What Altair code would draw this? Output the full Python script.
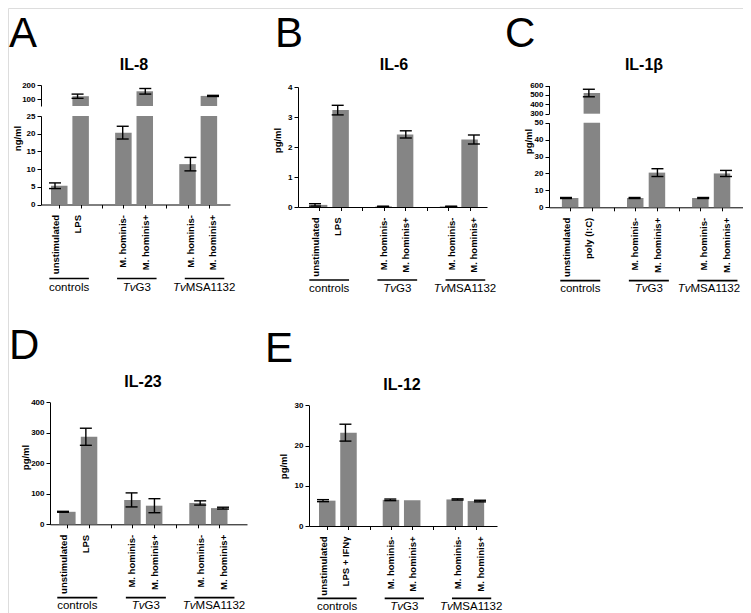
import altair as alt
import pandas as pd

# ---------------- data ----------------
slots = [0, 1, 3, 4, 6, 7]          # bar slots (2 and 5 are the gaps between groups)
all_slots = [0, 1, 2, 3, 4, 5, 6, 7]
group_first = [0, 3, 6]
group_pre = ["", "Tv", "Tv"]
group_main = ["controls", "G3", "MSA1132"]

cat_A = ["unstimulated", "LPS", "M. hominis-", "M. hominis+", "M. hominis-", "M. hominis+"]
cat_C = ["unstimulated", "poly (I:C)", "M. hominis-", "M. hominis+", "M. hominis-", "M. hominis+"]
cat_E = ["unstimulated", "LPS + IFN\u03b3", "M. hominis-", "M. hominis+", "M. hominis-", "M. hominis+"]

il8_mean = [5.3, 120, 20.3, 155, 11.4, 122]
il8_err = [0.8, 15, 1.8, 20, 1.9, 4]
il6_mean = [0.07, 3.23, 0.02, 2.42, 0.02, 2.25]
il6_err = [0.04, 0.16, 0.006, 0.12, 0.006, 0.15]
il1b_mean = [5.5, 520, 5.5, 20.5, 5.5, 20.0]
il1b_err = [0.3, 40, 0.3, 2.3, 0.3, 1.8]
il23_mean = [41, 287, 80, 61, 70, 53]
il23_err = [1.5, 28, 23, 23, 7, 3]
il12_mean = [6.3, 23.2, 6.5, 6.4, 6.6, 6.2]
il12_err = [0.25, 2.1, 0.2, 0, 0.15, 0.2]

# ---------------- style / layout ----------------
W, H = 735, 605
M = 8
GRAY = "#858585"
INK = "#000000"
FONT = "Liberation Sans"
BAR_W = 16.5
CAP = 6.0
GFS = 11.5
CAT_FS = 9.5
TICK_FS = 8
YT_FS = 9.5
LET_FS = 42

AW = {"c": 500, "o": 556, "n": 556, "t": 278, "r": 333, "l": 222, "s": 500,
      "G": 778, "3": 556, "M": 833, "S": 667, "A": 667, "1": 556, "2": 556,
      "T": 611, "v": 500}


def tw(s, size):
    return sum(AW.get(ch, 556) for ch in s) * size / 1000.0


panels = [
    dict(mean=il8_mean, err=il8_err, cats=cat_A, ax=41, c0=55, step=22.57, xend=230,
         base=204.5, low=(25, 116), lticks=[0, 5, 10, 15, 20, 25],
         up=(50, 200, 106, 85), uticks=[100, 200],
         ytitle="ng/ml", tx=17, ty=138, liney=278.5, texty=291,
         title="IL-8", ttx=134, tty=70, letter="A", lx=9, ly=47),
    dict(mean=il6_mean, err=il6_err, cats=cat_A, ax=298, c0=315, step=22.7, xend=487,
         base=207, low=(4, 87), lticks=[0, 1, 2, 3, 4], up=None,
         ytitle="pg/ml", tx=277, ty=140, liney=280, texty=292,
         title="IL-6", ttx=394, tty=70, letter="B", lx=275, ly=47),
    dict(mean=il1b_mean, err=il1b_err, cats=cat_C, ax=549, c0=566, step=22.86, xend=746,
         base=207.3, low=(50, 122.7), lticks=[0, 10, 20, 30, 40, 50],
         up=(300, 600, 113.7, 85.5), uticks=[300, 400, 500, 600],
         ytitle="pg/ml", tx=528, ty=141, liney=280.7, texty=292,
         title="IL-1\u03b2", ttx=644, tty=70, letter="C", lx=505, ly=47),
    dict(mean=il23_mean, err=il23_err, cats=cat_A, ax=50, c0=63, step=22.86, xend=247,
         base=524.3, low=(400, 402.3), lticks=[0, 100, 200, 300, 400], up=None,
         ytitle="pg/ml", tx=25, ty=457, liney=597.7, texty=609,
         title="IL-23", ttx=143, tty=387, letter="D", lx=9, ly=359),
    dict(mean=il12_mean, err=il12_err, cats=cat_E, ax=309, c0=323, step=22.43, xend=497,
         base=526, low=(30, 405.3), lticks=[0, 10, 20, 30], up=None,
         ytitle="pg/ml", tx=283, ty=466, liney=598.3, texty=610,
         title="IL-12", ttx=402, tty=390, letter="E", lx=265, ly=362),
]

y_axis_common = dict(orient="left", grid=False, labelFontSize=TICK_FS, labelFontWeight="bold",
                     labelColor=INK, tickSize=4, labelPadding=2, labelFlush=False,
                     labelOverlap=False, domainColor=INK, tickColor=INK,
                     domainWidth=1, tickWidth=1)


def caps_frame(d):
    a = d[["xa", "xb"]].copy()
    a["yv"] = d["lo"].values
    b = d[["xa", "xb"]].copy()
    b["yv"] = d["hi"].values
    return pd.concat([a, b], ignore_index=True)


def panel_layers(p):
    step = p["step"]
    d_lo = (p["ax"] - p["c0"]) / step
    xs = alt.Scale(domain=[d_lo, (p["xend"] - p["c0"]) / step],
                   range=[p["ax"] - M, p["xend"] - M], zero=False, nice=False)
    lo_max, lo_top = p["low"]
    ys = alt.Scale(domain=[0, lo_max], range=[p["base"] - M, lo_top - M], zero=False, nice=False)
    off_b = p["base"] - M - H
    off_l = -(p["ax"] - M)

    df = pd.DataFrame({"slot": slots, "v": p["mean"], "e": p["err"]})
    df["vlow"] = df["v"].clip(upper=lo_max)
    df["lo"] = df["v"] - df["e"]
    df["hi"] = df["v"] + df["e"]
    df["xa"] = df["slot"] - CAP / step
    df["xb"] = df["slot"] + CAP / step

    names = []
    for i in range(8):
        names.append(p["cats"][slots.index(i)] if i in slots else "")
    expr = "[" + ",".join("'" + n + "'" for n in names) + "][datum.value]"

    x_main = alt.Axis(orient="bottom", offset=off_b, values=all_slots, labels=False,
                      tickSize=3.5, domainColor=INK, tickColor=INK, grid=False, title=None,
                      domainWidth=1, tickWidth=1)
    x_lab = alt.Axis(orient="bottom", offset=off_b, values=slots, labelExpr=expr,
                     labelAngle=270, labelAlign="right", labelBaseline="middle",
                     labelPadding=10, ticks=False, tickSize=0, domain=False,
                     labelFontWeight="bold", labelFontSize=CAT_FS, labelColor=INK,
                     labelFlush=False, labelOverlap=False, grid=False, title=None)
    y_low = alt.Axis(values=p["lticks"], title=p["ytitle"], offset=off_l,
                     titleX=p["tx"] - p["ax"], titleY=p["ty"] - M, titleAngle=270,
                     titleAlign="center", titleBaseline="middle", titleFontSize=YT_FS,
                     titleFontWeight="bold", titleColor=INK, **y_axis_common)

    layers = []
    layers.append(alt.Chart(df).mark_bar(size=BAR_W, color=GRAY).encode(
        x=alt.X("slot:Q", scale=xs, axis=x_main),
        y=alt.Y("vlow:Q", scale=ys, axis=y_low)))

    low = df[(df["hi"] <= lo_max) & (df["e"] > 0)]
    layers.append(alt.Chart(low).mark_rule(color=INK, strokeWidth=1.4).encode(
        x=alt.X("slot:Q", scale=xs, axis=x_lab),
        y=alt.Y("lo:Q", scale=ys, axis=None), y2="hi:Q"))
    layers.append(alt.Chart(caps_frame(low)).mark_rule(color=INK, strokeWidth=1.4).encode(
        x=alt.X("xa:Q", scale=xs, axis=None), x2="xb:Q",
        y=alt.Y("yv:Q", scale=ys, axis=None)))

    if p["up"] is not None:
        umin, umax, ubot, utop = p["up"]
        yu = alt.Scale(domain=[umin, umax], range=[ubot - M, utop - M], zero=False, nice=False)
        y_up = alt.Axis(values=p["uticks"], title=None, offset=off_l, **y_axis_common)
        up = df[df["v"] > lo_max].copy()
        up["ub"] = umin
        layers.append(alt.Chart(up).mark_bar(size=BAR_W, color=GRAY).encode(
            x=alt.X("slot:Q", scale=xs, axis=None),
            y=alt.Y("v:Q", scale=yu, axis=y_up), y2="ub:Q"))
        layers.append(alt.Chart(up).mark_rule(color=INK, strokeWidth=1.4).encode(
            x=alt.X("slot:Q", scale=xs, axis=None),
            y=alt.Y("lo:Q", scale=yu, axis=None), y2="hi:Q"))
        layers.append(alt.Chart(caps_frame(up)).mark_rule(color=INK, strokeWidth=1.4).encode(
            x=alt.X("xa:Q", scale=xs, axis=None), x2="xb:Q",
            y=alt.Y("yv:Q", scale=yu, axis=None)))

    # group underlines and labels
    gdf = pd.DataFrame({"first": group_first, "pre": group_pre, "main": group_main})
    gdf["gs"] = gdf["first"] - 0.25
    gdf["ge"] = gdf["first"] + 1.5
    xsplit = []
    for f, a, b in zip(group_first, group_pre, group_main):
        wa, wb = tw(a, GFS), tw(b, GFS)
        center_px = (p["c0"] - M) + (f + 0.625) * step
        left_px = min(center_px - (wa + wb) / 2, W - 2 - (wa + wb))  # keep inside the page
        xsplit.append(d_lo + (left_px + wa - (p["ax"] - M)) / step)
    gdf["xsplit"] = xsplit
    layers.append(alt.Chart(gdf).mark_rule(color=INK, strokeWidth=1.7).encode(
        x=alt.X("gs:Q", scale=xs, axis=None), x2="ge:Q", y=alt.value(p["liney"] - M)))
    layers.append(alt.Chart(gdf).mark_text(align="left", baseline="alphabetic", fontSize=GFS,
                                           color=INK, font=FONT).encode(
        x=alt.X("xsplit:Q", scale=xs, axis=None), y=alt.value(p["texty"] - M), text="main:N"))
    layers.append(alt.Chart(gdf[gdf["pre"] != ""]).mark_text(
        align="right", baseline="alphabetic", fontSize=GFS, fontStyle="italic",
        color=INK, font=FONT).encode(
        x=alt.X("xsplit:Q", scale=xs, axis=None), y=alt.value(p["texty"] - M), text="pre:N"))

    one = pd.DataFrame({"k": [0]})
    layers.append(alt.Chart(one).mark_text(align="center", baseline="alphabetic", fontSize=16,
                                           fontWeight="bold", color=INK, font=FONT).encode(
        x=alt.value(p["ttx"] - M), y=alt.value(p["tty"] - M), text=alt.value(p["title"])))
    layers.append(alt.Chart(one).mark_text(align="left", baseline="alphabetic", fontSize=LET_FS,
                                           color=INK, font=FONT).encode(
        x=alt.value(p["lx"] - M), y=alt.value(p["ly"] - M), text=alt.value(p["letter"])))
    return layers


all_layers = []
for p in panels:
    all_layers += panel_layers(p)

chart = alt.layer(*all_layers).properties(
    width=W, height=H, padding=0, autosize=alt.AutoSizeParams(type="none")
).resolve_scale(x="independent", y="independent").configure_view(
    stroke=None).configure(font=FONT, background="white")

chart.save("out.html", embed_options={"renderer": "svg", "actions": False})
